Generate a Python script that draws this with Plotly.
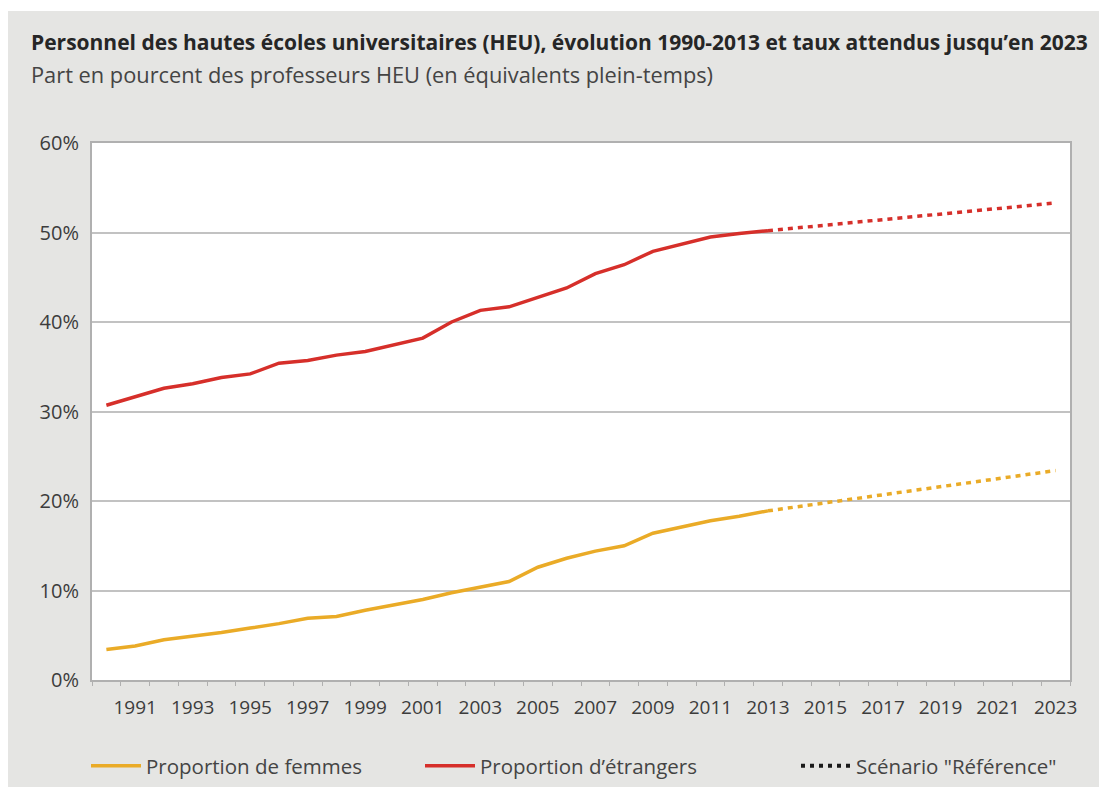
import plotly.graph_objects as go

# ---- data ----
years = list(range(1990, 2014))
femmes = [3.4, 3.8, 4.5, 4.9, 5.3, 5.8, 6.3, 6.9, 7.1, 7.8, 8.4, 9.0,
          9.75, 10.4, 11.0, 12.6, 13.6, 14.4, 15.0, 16.4, 17.1, 17.8, 18.3, 18.9]
etrangers = [30.7, 31.7, 32.6, 33.1, 33.8, 34.2, 35.4, 35.7, 36.3, 36.7, 37.5, 38.2,
             40.0, 41.3, 41.7, 42.7, 43.8, 45.4, 46.4, 47.9, 48.7, 49.5, 49.9, 50.2]
scen_years = [2013, 2023]
scen_femmes = [18.9, 23.4]
scen_etrangers = [50.2, 53.3]
tick_years = list(range(1991, 2024, 2))
y_ticks = [0, 10, 20, 30, 40, 50, 60]
y_ticktext = ["0%", "10%", "20%", "30%", "40%", "50%", "60%"]

YELLOW = "#eaab27"
RED = "#d62f2a"
GRID = "#c2c2c2"
AXIS = "#b0b0b0"
TXT = "#3c3c3c"
FONT = "Open Sans"

W, H = 1099, 787
L, R, T, B = 92, 29, 143, 107
pw, ph = W - L - R, H - T - B

def px_x(p):
    return (p - L) / pw

def px_y(q):
    return (H - B - q) / ph

fig = go.Figure()

fig.add_trace(go.Scatter(x=years, y=femmes, mode="lines", name="Proportion de femmes",
                         line=dict(color=YELLOW, width=3.5), legend="legend"))
fig.add_trace(go.Scatter(x=years, y=etrangers, mode="lines", name="Proportion d’étrangers",
                         line=dict(color=RED, width=3.5), legend="legend2"))
fig.add_trace(go.Scatter(x=scen_years, y=scen_femmes, mode="lines", showlegend=False,
                         line=dict(color=YELLOW, width=3.5, dash="5px,5px")))
fig.add_trace(go.Scatter(x=scen_years, y=scen_etrangers, mode="lines", showlegend=False,
                         line=dict(color=RED, width=3.5, dash="5px,5px")))
fig.add_trace(go.Scatter(x=[None], y=[None], mode="lines", name="Scénario \"Référence\"",
                         line=dict(color="#1a1a1a", width=4, dash="4px,5px"), legend="legend3"))

leg_common = dict(orientation="h", xref="container", yref="container", yanchor="middle",
                  xanchor="left", bgcolor="rgba(0,0,0,0)", itemwidth=50,
                  font=dict(family=FONT, size=20.5, color="#444444"))
ly = 1 - 766 / H

fig.update_layout(
    width=W, height=H,
    margin=dict(l=L, r=R, t=T, b=B),
    paper_bgcolor="#e5e5e3",
    plot_bgcolor="#ffffff",
    showlegend=True,
    legend=dict(x=86 / W, y=ly, **leg_common),
    legend2=dict(x=420 / W, y=ly, **leg_common),
    legend3=dict(x=796 / W, y=ly, **leg_common),
    xaxis=dict(range=[1989.5, 2023.5], tickmode="array", tickvals=tick_years,
               ticktext=[str(y) for y in tick_years], ticks="", showgrid=False,
               showline=True, linecolor=AXIS, linewidth=2, mirror=True,
               zeroline=False, ticklabelstandoff=9,
               tickfont=dict(family=FONT, size=19, color=TXT),
               minor=dict(ticks="outside", tickmode="array",
                          tickvals=[1989.5 + i for i in range(35)],
                          ticklen=4, tickcolor=AXIS, tickwidth=1, showgrid=False)),
    yaxis=dict(range=[0, 60], tickmode="array", tickvals=y_ticks, ticktext=y_ticktext,
               showgrid=True, gridcolor=GRID, gridwidth=2, zeroline=False,
               showline=True, linecolor=AXIS, linewidth=2, mirror=True,
               ticks="", ticklabelstandoff=7,
               tickfont=dict(family=FONT, size=20, color=TXT)),
    shapes=[
        dict(type="rect", xref="paper", yref="paper", x0=px_x(0), x1=px_x(W), y0=px_y(11), y1=px_y(0),
             fillcolor="#ffffff", line=dict(width=0), layer="below"),
        dict(type="rect", xref="paper", yref="paper", x0=px_x(0), x1=px_x(8), y0=px_y(H), y1=px_y(0),
             fillcolor="#ffffff", line=dict(width=0), layer="below"),
    ],
    annotations=[
        dict(text="<b>Personnel des hautes écoles universitaires (HEU), évolution 1990-2013 et taux attendus jusqu’en 2023</b>",
             xref="paper", yref="paper", x=px_x(29), y=px_y(42), xanchor="left", yanchor="middle",
             showarrow=False, font=dict(family=FONT, size=21, color="#262626")),
        dict(text="Part en pourcent des professeurs HEU (en équivalents plein-temps)",
             xref="paper", yref="paper", x=px_x(29), y=px_y(75), xanchor="left", yanchor="middle",
             showarrow=False, font=dict(family=FONT, size=21.8, color="#444444")),
    ],
)

fig.write_html("out.html")
